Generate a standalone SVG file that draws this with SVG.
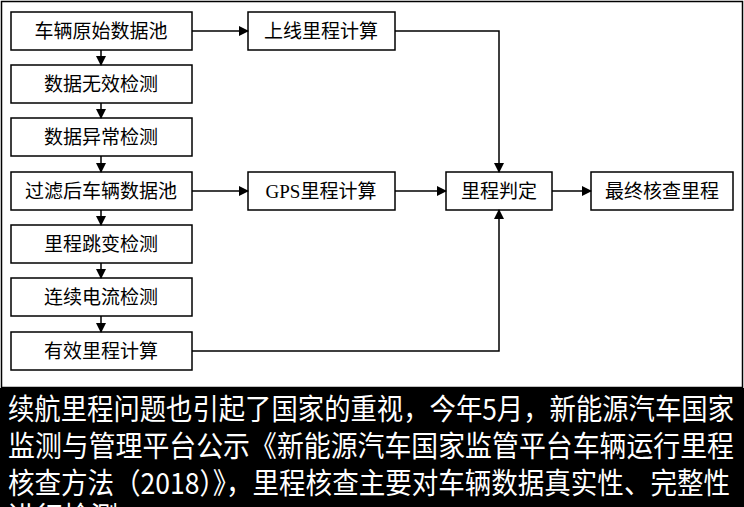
<svg xmlns="http://www.w3.org/2000/svg" width="744" height="507" viewBox="0 0 744 507">
<defs><marker id="a" markerWidth="10" markerHeight="10" refX="9" refY="5" orient="auto" markerUnits="userSpaceOnUse"><path d="M0,0 L10,5 L0,10 z" fill="#000"/></marker></defs>
<style>.b{fill:#fff;stroke:#000;stroke-width:1.5}.t{font-family:"Liberation Serif","Noto Sans CJK SC",serif;font-size:19px;text-anchor:middle;fill:#000}.c{stroke:#000;stroke-width:1.5;fill:none;marker-end:url(#a)}.w{font-family:"Noto Sans CJK SC",sans-serif;font-size:29px;fill:#fff}</style>
<rect x="0" y="0" width="744" height="507" fill="#fff"/>
<rect x="1.5" y="1.5" width="741" height="386" fill="none" stroke="#000" stroke-width="1.5"/>
<g id="n1"><rect class="b" x="11" y="12" width="181" height="38"/><text class="t" x="101" y="38">车辆原始数据池</text></g>
<g id="n2"><rect class="b" x="11" y="65" width="181" height="38"/><text class="t" x="101" y="91">数据无效检测</text></g>
<g id="n3"><rect class="b" x="11" y="118" width="181" height="38"/><text class="t" x="101" y="144">数据异常检测</text></g>
<g id="n4"><rect class="b" x="11" y="172" width="181" height="38"/><text class="t" x="101" y="198">过滤后车辆数据池</text></g>
<g id="n5"><rect class="b" x="11" y="225" width="181" height="38"/><text class="t" x="101" y="251">里程跳变检测</text></g>
<g id="n6"><rect class="b" x="11" y="278" width="181" height="38"/><text class="t" x="101" y="304">连续电流检测</text></g>
<g id="n7"><rect class="b" x="11" y="332" width="181" height="38"/><text class="t" x="101" y="358">有效里程计算</text></g>
<g id="n8"><rect class="b" x="248" y="12" width="147" height="38"/><text class="t" x="321" y="38">上线里程计算</text></g>
<g id="n9"><rect class="b" x="248" y="172" width="147" height="38"/><text class="t" x="321" y="198">GPS里程计算</text></g>
<g id="n10"><rect class="b" x="446" y="172" width="106" height="38"/><text class="t" x="499" y="198">里程判定</text></g>
<g id="n11"><rect class="b" x="591" y="172" width="142" height="38"/><text class="t" x="662" y="198">最终核查里程</text></g>
<g id="connectors">
<path class="c" d="M101,50 V65"/><path class="c" d="M101,103 V118"/><path class="c" d="M101,156 V172"/><path class="c" d="M101,210 V225"/><path class="c" d="M101,263 V278"/><path class="c" d="M101,316 V332"/>
<path class="c" d="M192,31 H248"/><path class="c" d="M192,191 H248"/>
<path class="c" d="M395,31 H499 V172"/><path class="c" d="M192,351 H499 V210"/>
<path class="c" d="M395,191 H446"/><path class="c" d="M552,191 H591"/>
</g>
<rect x="0" y="388" width="744" height="119" fill="#000"/>
<text class="w" x="8" y="420" textLength="726" lengthAdjust="spacingAndGlyphs">续航里程问题也引起了国家的重视，今年5月，新能源汽车国家</text>
<text class="w" x="8" y="457" textLength="726" lengthAdjust="spacingAndGlyphs">监测与管理平台公示《新能源汽车国家监管平台车辆运行里程</text>
<text class="w" x="8" y="494" textLength="722" lengthAdjust="spacingAndGlyphs">核查方法（2018）》，里程核查主要对车辆数据真实性、完整性</text>
<text class="w" x="8" y="528" textLength="110" lengthAdjust="spacingAndGlyphs">进行检测</text>
</svg>
